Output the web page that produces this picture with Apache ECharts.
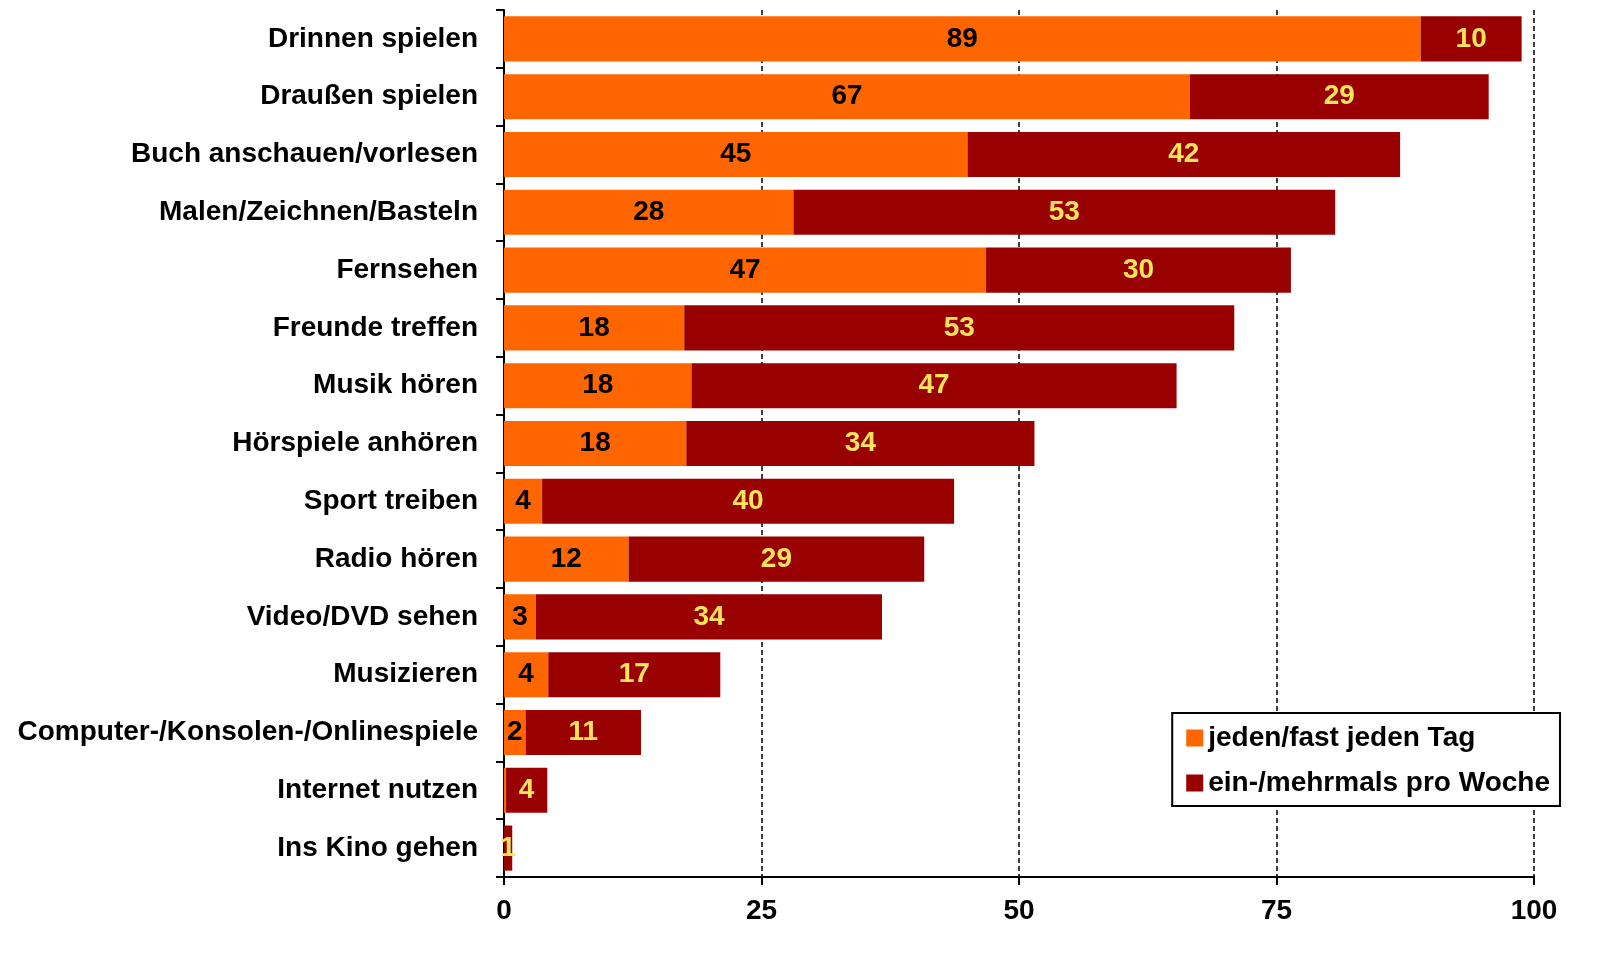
<!DOCTYPE html>
<html>
<head>
<meta charset="utf-8">
<script src="https://cdn.jsdelivr.net/npm/echarts@6/dist/echarts.min.js"></script>
<style>html,body{margin:0;padding:0;background:#fff;}#c{width:1614px;height:953px;}</style>
</head>
<body>
<div id="c"></div>
<script>
const categories = ["Drinnen spielen","Draußen spielen","Buch anschauen/vorlesen","Malen/Zeichnen/Basteln","Fernsehen","Freunde treffen","Musik hören","Hörspiele anhören","Sport treiben","Radio hören","Video/DVD sehen","Musizieren","Computer-/Konsolen-/Onlinespiele","Internet nutzen","Ins Kino gehen"];
const daily = [89.0,66.6,45.0,28.1,46.8,17.5,18.2,17.7,3.7,12.1,3.1,4.3,2.1,0.2,0];
const weekly = [9.8,29.0,42.0,52.6,29.6,53.4,47.1,33.8,40.0,28.7,33.6,16.7,11.2,4.0,0.8];
const seriesNames = ["jeden/fast jeden Tag","ein-/mehrmals pro Woche"];
const xTicks = [0,25,50,75,100];

const FONT = "'Liberation Sans', Arial, sans-serif";
const FS = 28;
const chart = echarts.init(document.getElementById('c'));
const lbl = (color) => ({
  show: true, position: 'inside', color: color, fontFamily: FONT, fontWeight: 'bold', fontSize: FS,
  formatter: p => { const r = Math.round(p.value); return r === 0 ? '' : String(r); }
});
chart.setOption({
  animation: false,
  textStyle: { fontFamily: FONT },
  grid: { left: 504, right: 80, top: 10, bottom: 76, containLabel: false },
  legend: {
    orient: 'vertical', right: 54, top: 713,
    data: seriesNames,
    backgroundColor: '#fff', borderColor: '#000', borderWidth: 2,
    padding: [11, 10, 9, 14], itemGap: 17, itemWidth: 17, itemHeight: 17,
    icon: 'rect',
    textStyle: { fontFamily: FONT, fontWeight: 'bold', fontSize: FS, color: '#000' }
  },
  xAxis: {
    type: 'value', min: xTicks[0], max: xTicks[xTicks.length-1], interval: 25,
    axisLine: { show: true, lineStyle: { color: '#000', width: 2 } },
    axisTick: { show: true, length: 8, lineStyle: { color: '#000', width: 2 } },
    axisLabel: { color: '#000', fontFamily: FONT, fontWeight: 'bold', fontSize: FS, margin: 20 },
    splitLine: { show: true, lineStyle: { color: '#000', type: [5, 3], width: 1.5 } }
  },
  yAxis: {
    type: 'category', data: categories, inverse: true,
    axisLine: { show: true, lineStyle: { color: '#000', width: 2 } },
    axisTick: { show: true, length: 8, lineStyle: { color: '#000', width: 2 } },
    axisLabel: { color: '#000', fontFamily: FONT, fontWeight: 'bold', fontSize: FS, margin: 26 }
  },
  series: [
    { name: seriesNames[0], type: 'bar', stack: 's', data: daily, barCategoryGap: '22%',
      itemStyle: { color: '#FF6600' }, label: lbl('#000') },
    { name: seriesNames[1], type: 'bar', stack: 's', data: weekly, barCategoryGap: '22%',
      itemStyle: { color: '#990000' }, label: lbl('#FFE35A') }
  ]
});
</script>
</body>
</html>
